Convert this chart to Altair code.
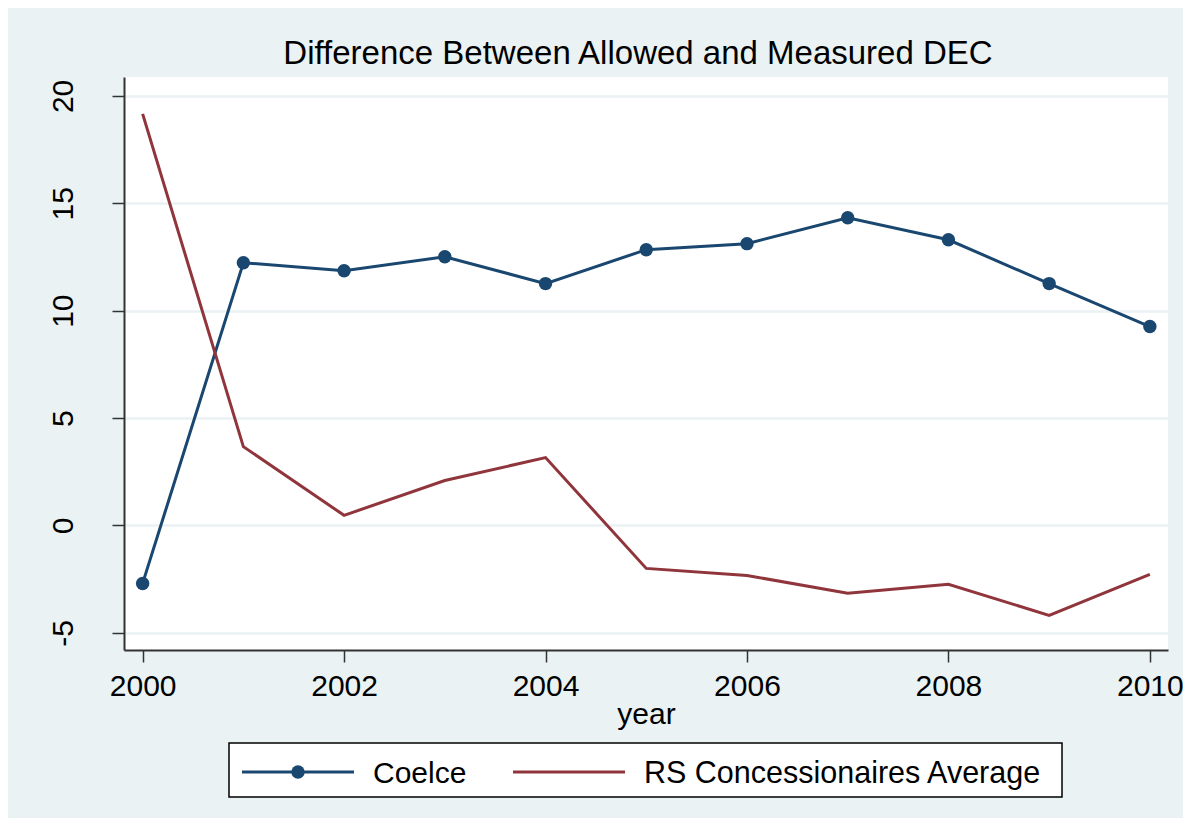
import altair as alt
import pandas as pd

years = list(range(2000, 2011))
coelce = [-2.70, 12.23, 11.86, 12.51, 11.26, 12.84, 13.12, 14.33, 13.30, 11.26, 9.26]
rs_avg = [19.16, 3.67, 0.47, 2.09, 3.16, -2.00, -2.33, -3.16, -2.74, -4.19, -2.28]
series = ["Coelce", "RS Concessionaires Average"]
colors = ["#1a476f", "#90353b"]
x_ticks = [2000, 2002, 2004, 2006, 2008, 2010]
y_ticks = [-5, 0, 5, 10, 15, 20]
title_text = "Difference Between Allowed and Measured DEC"
x_title = "year"

FONT = "Liberation Sans"
BG = "#EAF2F3"
AX = "#333333"

df = pd.DataFrame({
    "year": years * 2,
    "value": coelce + rs_avg,
    "series": [series[0]] * len(years) + [series[1]] * len(years),
})

x_enc = alt.X(
    "year:Q",
    scale=alt.Scale(domain=[1999.815, 2010.18], nice=False, zero=False),
    axis=alt.Axis(
        values=x_ticks, format="d", title=x_title, grid=False,
        labelFont=FONT, labelFontSize=30, labelColor="black",
        labelBaseline="alphabetic", labelPadding=33,
        tickSize=12, tickColor=AX, tickWidth=1.5,
        domainColor=AX, domainWidth=2,
        titleFont=FONT, titleFontSize=30, titleFontWeight="normal",
        titleColor="black", titleBaseline="alphabetic", titleY=73,
    ),
)
y_enc = alt.Y(
    "value:Q",
    scale=alt.Scale(domain=[-5.8, 20.88], nice=False, zero=False),
    axis=alt.Axis(
        values=y_ticks, title=None, grid=True, gridColor=BG, gridWidth=2.5,
        labelExpr="replace(datum.label, '\u2212', '-')",
        labelFont=FONT, labelFontSize=30, labelColor="black",
        labelAngle=270, labelAlign="center", labelBaseline="alphabetic",
        labelPadding=40,
        tickSize=12, tickColor=AX, tickWidth=1.5,
        domainColor=AX, domainWidth=2,
    ),
)
color_enc = alt.Color("series:N", scale=alt.Scale(domain=series, range=colors), legend=None)

base = alt.Chart(df)
lines = base.mark_line(strokeWidth=3).encode(x=x_enc, y=y_enc, color=color_enc)
points = base.mark_point(filled=True, size=180, opacity=1).encode(
    x=x_enc, y=y_enc, color=color_enc
).transform_filter(alt.datum.series == series[0])

one = pd.DataFrame({"k": [0]})
lg = alt.Chart(one)
leg_box = lg.mark_rect(fill="white", stroke="black", strokeWidth=1.5).encode(
    x=alt.value(105), x2=alt.value(938), y=alt.value(666), y2=alt.value(720)
)
leg_line1 = lg.mark_rule(color=colors[0], strokeWidth=3).encode(
    x=alt.value(118), x2=alt.value(230), y=alt.value(695)
)
leg_dot1 = lg.mark_point(filled=True, size=180, opacity=1, color=colors[0]).encode(
    x=alt.value(174), y=alt.value(695)
)
leg_text1 = lg.mark_text(align="left", baseline="alphabetic", font=FONT, fontSize=30, color="black").encode(
    x=alt.value(249), y=alt.value(706), text=alt.value(series[0])
)
leg_line2 = lg.mark_rule(color=colors[1], strokeWidth=3).encode(
    x=alt.value(389), x2=alt.value(501), y=alt.value(695)
)
leg_text2 = lg.mark_text(align="left", baseline="alphabetic", font=FONT, fontSize=30.5, color="black").encode(
    x=alt.value(520), y=alt.value(706), text=alt.value(series[1])
)

chart = alt.layer(
    lines, points, leg_box, leg_line1, leg_dot1, leg_text1, leg_line2, leg_text2
).properties(
    width=1044,
    height=573,
    background=BG,
    padding={"left": 116, "top": 69, "right": 15, "bottom": 168},
    autosize=alt.AutoSizeParams(type="none"),
    title=alt.TitleParams(
        text=title_text, font=FONT, fontSize=33, fontWeight="normal", color="black",
        anchor="middle", frame="group", baseline="alphabetic", offset=12, dx=-8, dy=32,
    ),
).configure_view(fill="white", strokeWidth=0)

chart.save("out.html", embed_options={"renderer": "svg", "actions": False})
